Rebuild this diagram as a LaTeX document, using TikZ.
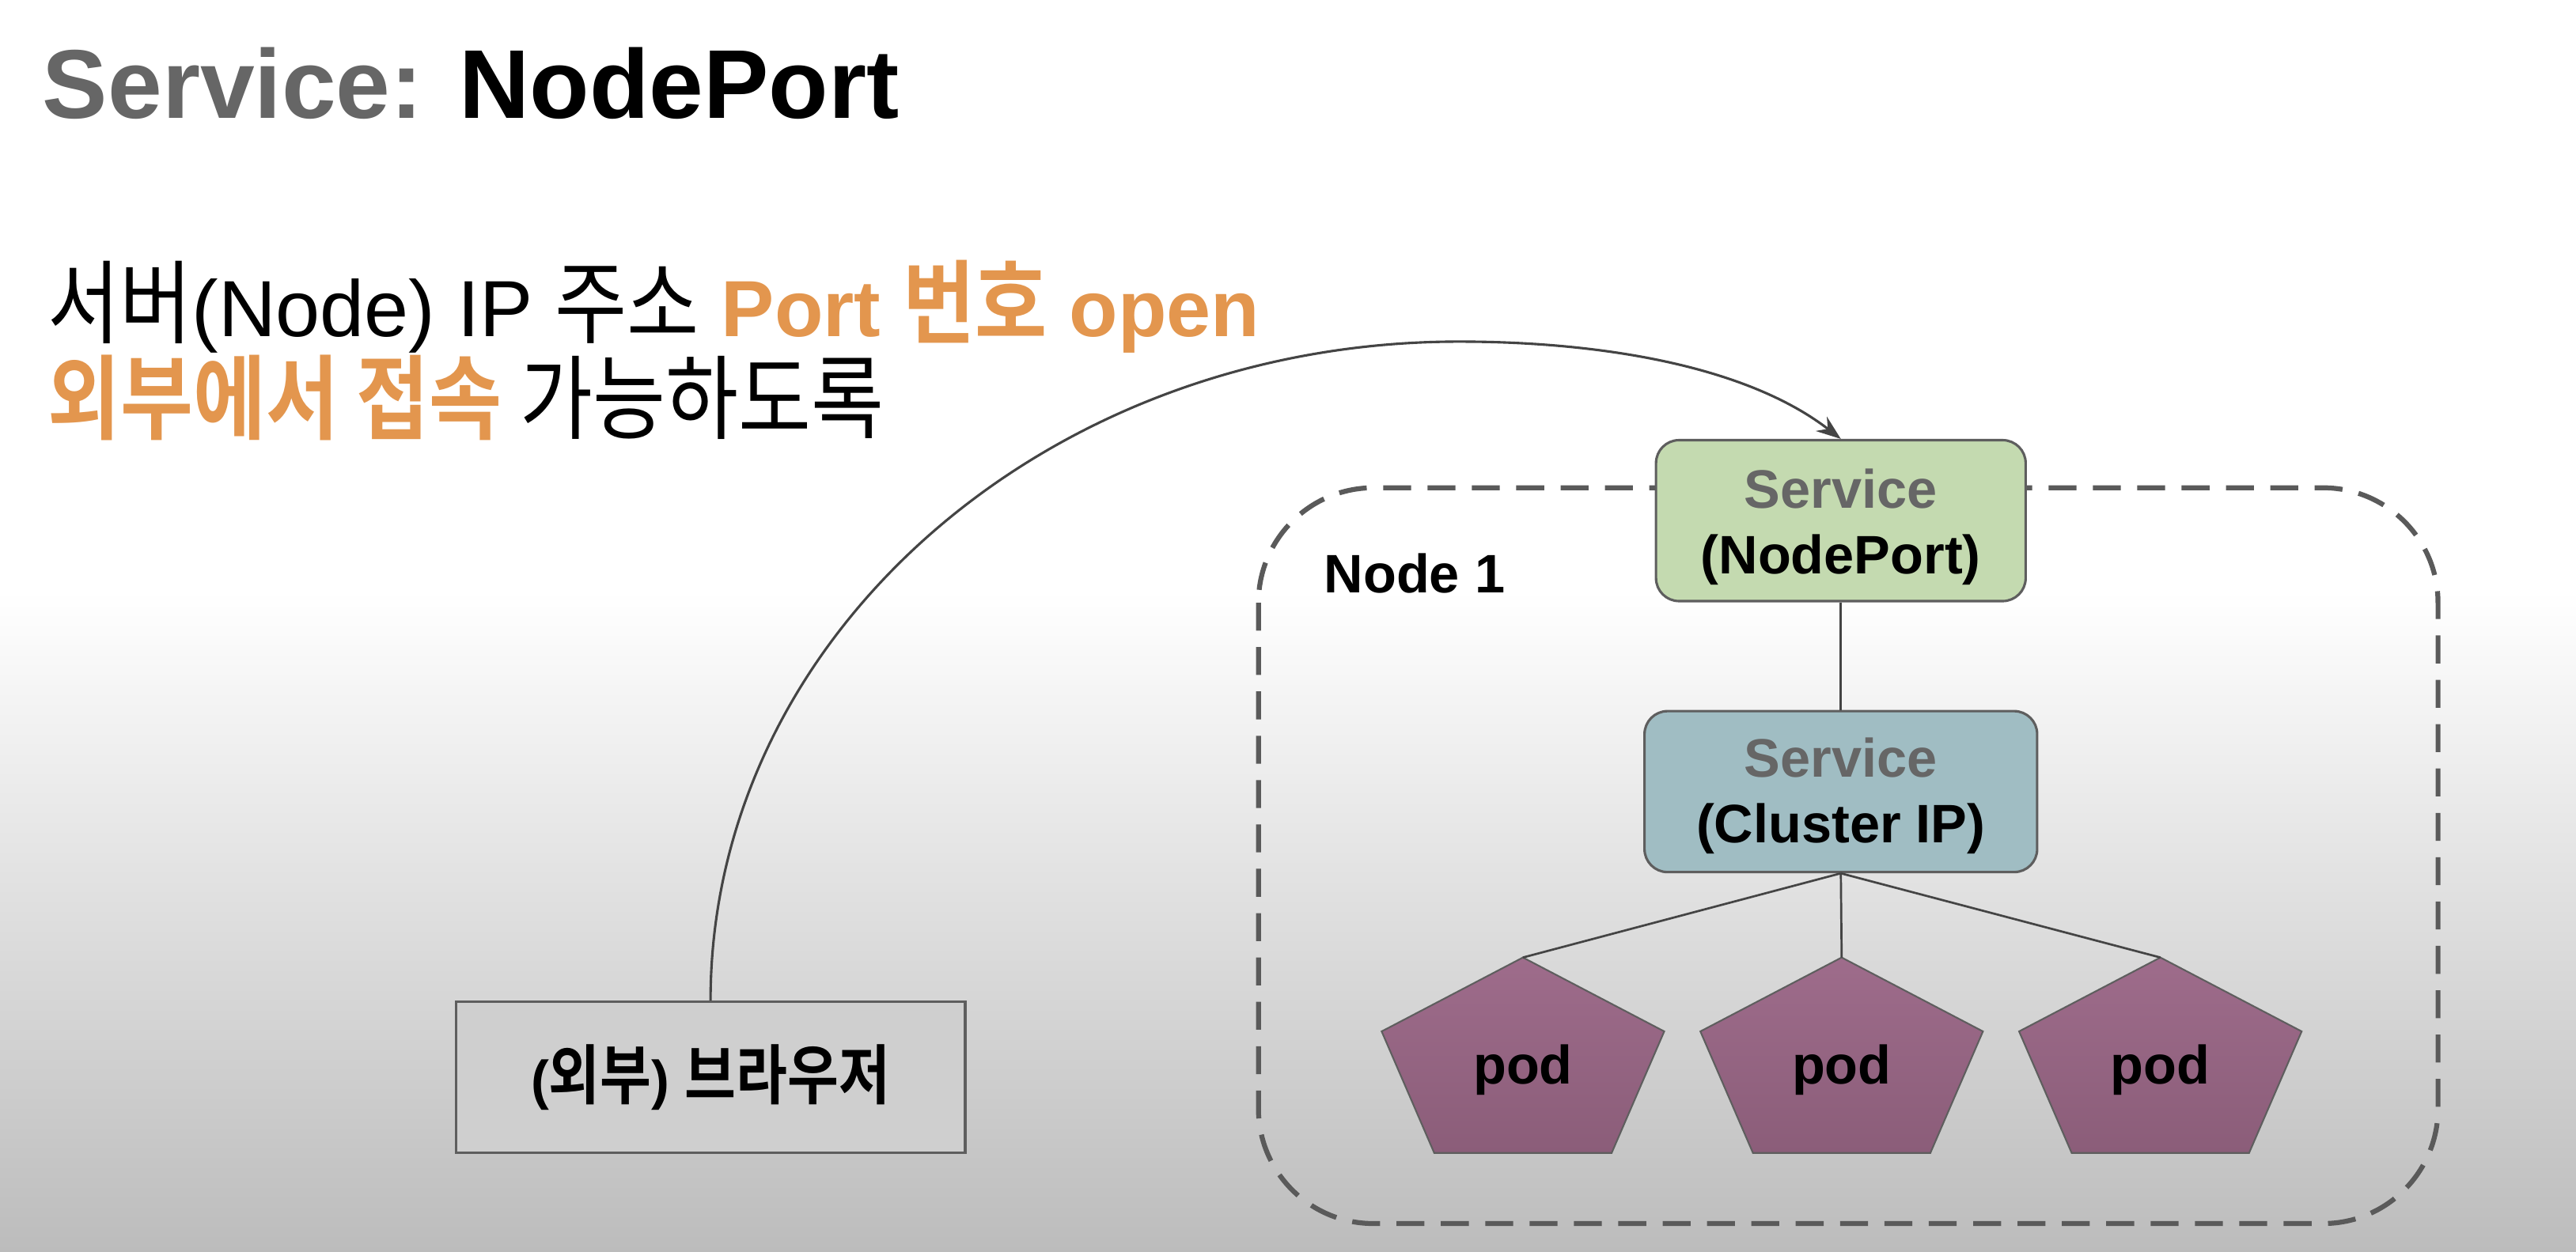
\documentclass[tikz,border=0pt]{standalone}
\usepackage{fontspec}
\setmainfont{Liberation Sans}
\newfontfamily\krf[FakeStretch=0.86,BoldFont={Noto Sans CJK KR Bold}]{Noto Sans CJK KR}
\usetikzlibrary{arrows.meta}
\definecolor{orangeT}{HTML}{E3964E}
\definecolor{npgreen}{HTML}{C4DAB0}
\definecolor{cipblue}{HTML}{A0BDC3}
\definecolor{podtop}{HTML}{9E6C8B}
\definecolor{podbot}{HTML}{8B5D79}
\definecolor{brgray}{HTML}{CFCFCF}
\definecolor{bordergray}{HTML}{5E5E5E}
\definecolor{svcgray}{HTML}{666666}
\definecolor{titlegray}{HTML}{666666}
\definecolor{dashgray}{HTML}{5A5A5A}
\definecolor{linegray}{HTML}{444444}
\definecolor{bggray}{HTML}{BCBCBC}
\newcommand\hgl[2]{{\fontsize{#1}{#1}\selectfont\krf #2}}
\begin{document}
\begin{tikzpicture}[x=1pt,y=-1pt,
  txt/.style={inner sep=0pt, outer sep=0pt},
  boxtxt/.style={inner sep=0pt, anchor=base, font=\fontsize{33}{40}\selectfont\bfseries},
  svcbox/.style={draw=bordergray, line width=1.5pt, rounded corners=14pt, inner sep=0pt},
  conn/.style={draw=linegray, line width=1.3pt},
  podshape/.style={draw=bordergray, line width=1pt, top color=podtop, bottom color=podbot}
]
\useasboundingbox (0,0) rectangle (1568,762);
% background
\fill[white] (0,0) rectangle (1568,762);
\shade[top color=white, bottom color=bggray] (0,360) rectangle (1568,762);

% title
\node[txt, anchor=base west] (title) at (26,72)
  {\fontsize{59.5}{70}\selectfont\bfseries{\color{titlegray}Service:} NodePort};

% description lines
\node[txt, anchor=base west] (line1) at (29,205)
  {\fontsize{48.5}{56}\selectfont\hgl{55.5}{서버}(Node) IP \hgl{55.5}{주소} {\color{orangeT}\bfseries Port \hgl{55.5}{번호} open}};
\node[txt, anchor=base west] (line2) at (29,263)
  {\hgl{56}{{\color{orangeT}\bfseries 외부에서 접속} 가능하도록}};

% node 1 dashed region
\draw[dashgray, line width=3pt, dash pattern=on 17pt off 10pt, rounded corners=70pt]
  (766,297) rectangle (1484,745);
\node[txt, anchor=base west, font=\fontsize{33}{40}\selectfont\bfseries] (nodelbl) at (806,361) {Node 1};

% services
\node[svcbox, fill=npgreen, minimum width=225pt, minimum height=98pt] (np) at (1120.5,317) {};
\node[boxtxt, text=svcgray] (npt1) at ([yshift=-42pt]np.north) {Service};
\node[boxtxt] (npt2) at ([yshift=-82pt]np.north) {(NodePort)};

\node[svcbox, fill=cipblue, minimum width=239pt, minimum height=98pt] (cip) at (1120.5,482) {};
\node[boxtxt, text=svcgray] (cipt1) at ([yshift=-41pt]cip.north) {Service};
\node[boxtxt] (cipt2) at ([yshift=-81pt]cip.north) {(Cluster IP)};

% pods
\foreach \i/\cx in {1/927,2/1121,3/1315}{
  \coordinate (p\i top) at (\cx,583);
  \path[podshape] (p\i top) -- (\cx+86,628) -- (\cx+54,702) -- (\cx-54,702) -- (\cx-86,628) -- cycle;
  \node[boxtxt] (p\i txt) at (\cx,660) {pod};
}

% browser
\node[draw=bordergray, line width=1.5pt, fill=brgray, minimum width=310pt, minimum height=92pt, inner sep=0pt] (br) at (432.5,656) {};
\node[txt, anchor=base, font=\fontsize{33}{40}\selectfont\bfseries] (brt) at (432.5,669)
  {(\hgl{39.5}{외부}) \hgl{39.5}{브라우저}};

% connectors
\draw[conn] (np.south) -- (cip.north);
\foreach \i in {1,2,3}{
  \draw[conn] (cip.south) -- (p\i top);
}
\coordinate (peak) at (888,208);
\draw[linegray, line width=1.5pt, -{Stealth[length=15pt,width=11pt,inset=5pt]}]
  (br.north) .. controls +(0,-222) and +(-251,0) .. (peak)
  .. controls (972,208) and (1062,222) .. (np.north);
\end{tikzpicture}
\end{document}
